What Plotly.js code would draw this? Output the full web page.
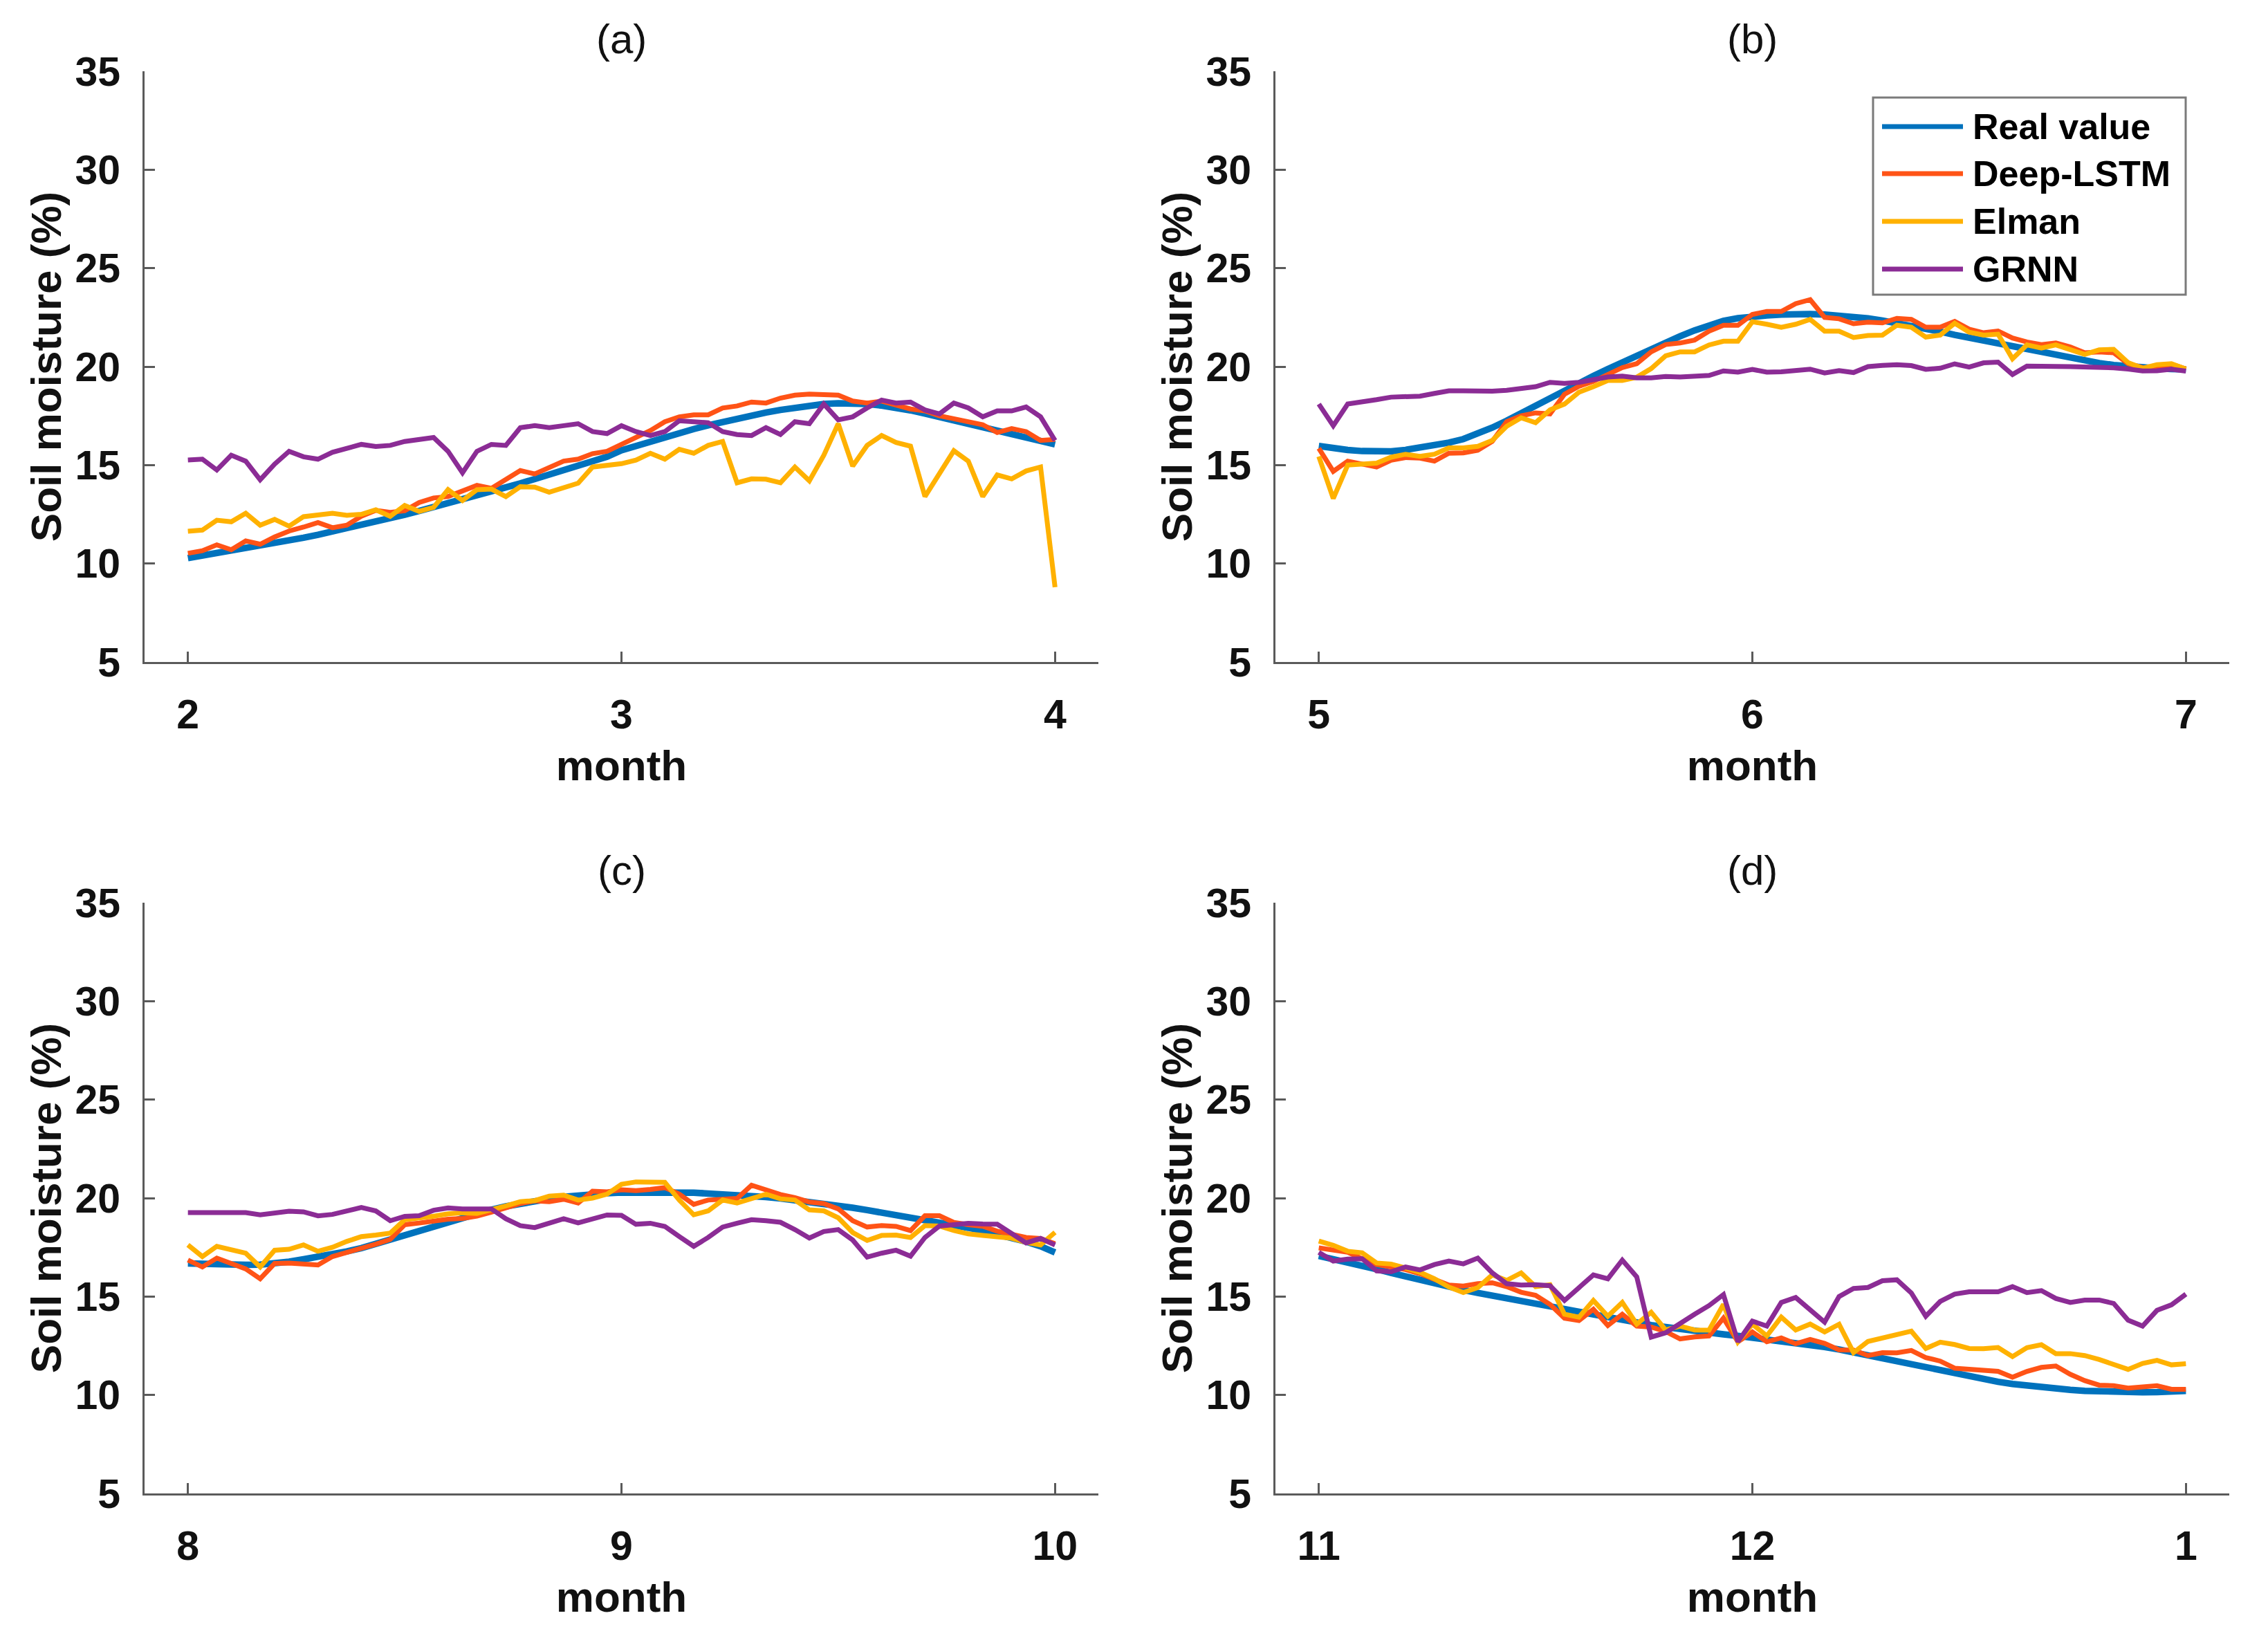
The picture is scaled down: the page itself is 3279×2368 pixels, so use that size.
<!DOCTYPE html>
<html><head><meta charset="utf-8">
<script src="https://cdn.plot.ly/plotly-3.0.1.min.js"></script>
<style>html,body{margin:0;padding:0;background:#fff}</style>
</head><body><div id="chart" style="width:3279px;height:2368px"></div>
<script>
const seriesNames = ['Real value','Deep-LSTM','Elman','GRNN'];
const seriesColors = ['#0072BD','#FF5316','#FFB100','#8B2C95'];
const seriesWidths = [9.5,7,7,7];
const panelTitles = ['(a)','(b)','(c)','(d)'];
const monthTickText = [['2','3','4'],['5','6','7'],['8','9','10'],['11','12','1']];
const monthTickDays = [0,30,60];
const yTicks = [5,10,15,20,25,30,35];

const a_real = [10.28,10.40,10.52,10.65,10.78,10.90,11.03,11.17,11.31,11.46,11.62,11.78,11.95,12.12,12.30,12.48,12.67,12.86,13.05,13.25,13.45,13.65,13.86,14.07,14.29,14.51,14.73,14.96,15.19,15.42,15.75,15.98,16.20,16.42,16.63,16.83,17.02,17.20,17.37,17.53,17.67,17.80,17.92,18.02,18.10,18.14,18.14,18.10,18.02,17.92,17.78,17.62,17.45,17.28,17.10,16.92,16.74,16.57,16.40,16.23,16.05];
const a_lstm = [10.52,10.65,10.95,10.7,11.15,10.98,11.35,11.65,11.85,12.08,11.82,11.95,12.4,12.7,12.6,12.68,13.1,13.33,13.4,13.7,13.97,13.82,14.3,14.72,14.55,14.9,15.2,15.3,15.58,15.7,16.05,16.45,16.75,17.2,17.45,17.55,17.55,17.9,18.0,18.2,18.15,18.4,18.55,18.6,18.55,18.55,18.25,18.15,18.25,18.05,17.85,17.75,17.5,17.35,17.2,17.05,16.65,16.85,16.7,16.25,16.3];
const a_elman = [11.64,11.7,12.2,12.12,12.55,11.95,12.24,11.9,12.38,12.45,12.55,12.45,12.5,12.73,12.4,12.95,12.65,12.85,13.75,13.2,13.75,13.78,13.4,13.9,13.88,13.62,13.85,14.08,14.9,14.96,15.07,15.25,15.6,15.3,15.8,15.6,16.0,16.2,14.1,14.3,14.28,14.1,14.9,14.2,15.5,17.1,14.95,16.0,16.5,16.15,15.96,13.4,14.6,15.73,15.2,13.4,14.5,14.3,14.7,14.9,8.8];
const a_grnn = [15.26,15.3,14.75,15.5,15.2,14.25,15.05,15.7,15.42,15.3,15.65,15.85,16.05,15.94,16.0,16.2,16.3,16.4,15.7,14.61,15.7,16.05,16.0,16.9,17.0,16.9,17.0,17.1,16.7,16.6,17.0,16.7,16.5,16.7,17.25,17.2,17.15,16.7,16.55,16.5,16.9,16.55,17.2,17.1,18.1,17.3,17.45,17.9,18.3,18.15,18.2,17.8,17.6,18.15,17.9,17.45,17.75,17.75,17.95,17.45,16.25];

const b_real = [15.97,15.85,15.77,15.71,15.67,15.70,15.77,15.87,16.00,16.14,16.32,16.58,16.90,17.25,17.64,18.00,18.42,18.83,19.20,19.53,19.88,20.23,20.58,20.90,21.20,21.54,21.84,22.10,22.32,22.46,22.55,22.60,22.64,22.67,22.67,22.64,22.60,22.53,22.45,22.34,22.22,22.08,21.93,21.78,21.61,21.46,21.30,21.15,21.00,20.85,20.70,20.56,20.42,20.29,20.18,20.08,20.00,19.94,19.91,19.88,19.86];
const b_lstm = [15.85,14.68,15.2,15.05,14.9,15.25,15.38,15.35,15.2,15.6,15.62,15.75,16.2,17.2,17.5,17.65,17.6,18.6,19.0,19.25,19.6,19.95,20.15,20.75,21.12,21.2,21.35,21.8,22.1,22.1,22.65,22.8,22.8,23.2,23.4,22.5,22.43,22.18,22.26,22.22,22.45,22.4,22.0,22.0,22.3,21.9,21.72,21.81,21.45,21.25,21.12,21.2,21.0,20.7,20.75,20.7,20.15,19.95,19.94,20.12,19.88];
const b_elman = [15.44,13.3,15.0,15.05,15.1,15.4,15.55,15.44,15.55,15.87,15.87,15.95,16.25,16.97,17.4,17.15,17.8,18.1,18.7,18.98,19.3,19.3,19.46,19.9,20.55,20.75,20.75,21.1,21.29,21.29,22.28,22.15,22.0,22.15,22.4,21.8,21.8,21.48,21.58,21.6,22.1,22.0,21.5,21.6,22.2,21.75,21.6,21.65,20.4,21.1,20.94,21.1,20.85,20.62,20.85,20.88,20.2,19.92,20.1,20.15,19.88];
const b_grnn = [18.1,17.0,18.1,18.19,18.32,18.45,18.45,18.5,18.64,18.77,18.77,18.75,18.75,18.8,18.9,18.98,19.2,19.15,19.2,19.34,19.47,19.52,19.43,19.43,19.5,19.47,19.5,19.55,19.78,19.72,19.86,19.72,19.74,19.82,19.87,19.68,19.8,19.7,20.0,20.06,20.1,20.05,19.86,19.92,20.14,19.98,20.19,20.23,19.6,20.03,20.05,20.01,20.0,20.0,19.95,19.94,19.88,19.78,19.79,19.87,19.77];

const c_real = [16.68,16.65,16.63,16.62,16.61,16.62,16.68,16.77,16.89,17.00,17.15,17.29,17.46,17.68,17.89,18.11,18.35,18.58,18.81,19.03,19.24,19.41,19.58,19.73,19.85,19.96,20.06,20.14,20.20,20.25,20.28,20.29,20.30,20.30,20.29,20.27,20.23,20.20,20.15,20.11,20.05,19.98,19.90,19.81,19.72,19.61,19.51,19.39,19.27,19.15,19.03,18.90,18.77,18.63,18.49,18.33,18.17,17.99,17.79,17.55,17.24];
const c_lstm = [16.85,16.5,16.95,16.66,16.4,15.9,16.68,16.7,16.65,16.6,17.03,17.22,17.45,17.66,17.9,18.65,18.73,18.85,18.93,18.96,19.08,19.28,19.5,19.72,19.86,19.82,19.94,19.75,20.35,20.32,20.42,20.38,20.44,20.53,20.2,19.68,19.9,19.92,19.98,20.65,20.42,20.18,20.02,19.8,19.72,19.45,18.85,18.53,18.6,18.56,18.35,19.1,19.1,18.76,18.65,18.57,18.32,18.19,18.0,17.95,17.68];
const c_elman = [17.62,17.03,17.55,17.4,17.2,16.5,17.35,17.4,17.62,17.3,17.5,17.8,18.04,18.12,18.22,18.9,18.96,19.08,19.2,19.25,19.22,19.38,19.6,19.82,19.87,20.1,20.15,19.9,20.0,20.2,20.7,20.82,20.79,20.8,19.9,19.15,19.35,19.9,19.75,20.0,20.2,19.96,19.9,19.4,19.35,19.0,18.25,17.85,18.1,18.12,18.0,18.6,18.58,18.35,18.18,18.1,18.03,17.96,17.75,17.62,18.26];
const c_grnn = [19.26,19.25,19.3,19.27,19.26,19.15,19.25,19.33,19.3,19.1,19.17,19.35,19.52,19.35,18.85,19.07,19.1,19.38,19.5,19.45,19.44,19.45,18.95,18.6,18.5,18.7,18.95,18.74,18.95,19.14,19.12,18.67,18.72,18.56,18.05,17.55,18.0,18.53,18.72,18.9,18.85,18.77,18.4,17.97,18.3,18.4,17.87,17.0,17.2,17.35,17.05,18.0,18.58,18.65,18.72,18.68,18.67,18.2,17.72,17.95,17.62];

const d_real = [17.06,16.91,16.74,16.56,16.39,16.20,16.01,15.82,15.65,15.48,15.33,15.18,15.04,14.89,14.76,14.62,14.49,14.35,14.21,14.07,13.93,13.80,13.67,13.55,13.45,13.34,13.25,13.16,13.08,13.00,12.92,12.84,12.75,12.66,12.55,12.44,12.31,12.16,12.02,11.87,11.71,11.54,11.38,11.21,11.06,10.92,10.79,10.67,10.56,10.47,10.39,10.32,10.26,10.21,10.18,10.15,10.14,10.14,10.15,10.18,10.21];
const d_lstm = [17.47,17.35,17.25,16.92,16.62,16.5,16.37,16.16,15.9,15.58,15.53,15.65,15.7,15.5,15.22,15.06,14.6,13.9,13.78,14.35,13.53,14.1,13.5,13.45,13.22,12.85,12.95,13.0,13.9,12.7,13.2,12.7,12.9,12.6,12.82,12.62,12.29,12.28,12.0,12.15,12.14,12.26,11.9,11.72,11.36,11.3,11.28,11.2,10.9,11.2,11.4,11.47,11.05,10.73,10.5,10.47,10.35,10.4,10.47,10.29,10.29];
const d_elman = [17.82,17.6,17.3,17.22,16.7,16.65,16.45,16.23,15.9,15.48,15.2,15.45,16.1,15.82,16.2,15.5,15.6,14.1,13.95,14.8,14.0,14.7,13.6,14.2,13.3,13.5,13.3,13.29,14.6,12.7,13.6,13.0,13.95,13.3,13.6,13.2,13.59,12.15,12.72,12.9,13.06,13.24,12.36,12.68,12.56,12.36,12.35,12.41,11.95,12.4,12.55,12.1,12.1,12.0,11.8,11.55,11.3,11.6,11.76,11.53,11.59];
const d_grnn = [17.24,16.8,16.9,16.92,16.3,16.26,16.5,16.35,16.62,16.8,16.66,16.95,16.2,15.65,15.58,15.6,15.55,14.8,15.45,16.1,15.9,16.85,16.0,12.94,13.16,13.65,14.1,14.54,15.1,12.7,13.75,13.5,14.7,14.95,14.35,13.7,15.0,15.41,15.46,15.8,15.85,15.18,14.0,14.75,15.12,15.24,15.24,15.24,15.5,15.2,15.3,14.9,14.7,14.82,14.82,14.65,13.8,13.5,14.3,14.58,15.12];

const panels = [
  [a_real,a_lstm,a_elman,a_grnn],
  [b_real,b_lstm,b_elman,b_grnn],
  [c_real,c_lstm,c_elman,c_grnn],
  [d_real,d_lstm,d_elman,d_grnn]
];

const W = 3279, H = 2368;
const FONT = 'Liberation Sans, Arial, Helvetica, sans-serif';
const xDomains = [[209/W,1588/W],[1844/W,3223/W]];
const yDomains = [[1-957/H,1-103/H],[1-2159/H,1-1305/H]];

const traces = [];
panels.forEach((ser,p)=>{
  const ax = p===0?'':String(p+1);
  ser.forEach((vals,s)=>{
    traces.push({
      type:'scatter', mode:'lines',
      x: vals.map((_,i)=>i), y: vals,
      xaxis:'x'+ax, yaxis:'y'+ax,
      name: seriesNames[s], showlegend:false,
      line:{color:seriesColors[s], width:seriesWidths[s]}
    });
  });
});

const axisCommon = {
  showline:true, linecolor:'#5a5a5a', linewidth:3,
  ticks:'inside', ticklen:15, tickwidth:3, tickcolor:'#5a5a5a',
  showgrid:false, zeroline:false, mirror:false,
  tickfont:{family:FONT, size:59, color:'#111', weight:'bold'}
};

const layout = {
  width:W, height:H, margin:{l:0,r:0,t:0,b:0},
  paper_bgcolor:'#fff', plot_bgcolor:'#fff',
  font:{family:FONT, color:'#111'},
  annotations:[], shapes:[]
};

for(let p=0;p<4;p++){
  const ax = p===0?'':String(p+1);
  const col = p%2, row = Math.floor(p/2);
  layout['xaxis'+ax] = Object.assign({}, axisCommon, {
    domain:xDomains[col], anchor:'y'+ax, range:[-3,63],
    tickvals:monthTickDays, ticktext:monthTickText[p],
    ticklabelstandoff:22,
    title:{text:'month', font:{family:FONT, size:62, color:'#111', weight:'bold'}, standoff:20}
  });
  layout['yaxis'+ax] = Object.assign({}, axisCommon, {
    domain:yDomains[row], anchor:'x'+ax, range:[5,35],
    tickvals:yTicks, ticklabelstandoff:20,
    title:{text:'Soil moisture (%)', font:{family:FONT, size:62, color:'#111', weight:'bold'}, standoff:0}
  });
  layout.annotations.push({
    text:panelTitles[p], xref:'paper', yref:'paper',
    x:(xDomains[col][0]+xDomains[col][1])/2, y:1-(56+row*1202)/H,
    xanchor:'center', yanchor:'middle', showarrow:false,
    font:{family:FONT, size:60, color:'#111'}
  });
}

// legend box (panel b)
const legX0 = 2708/W, legX1 = 3160/W, legY0 = 1-426/H, legY1 = 1-141/H;
layout.shapes.push({type:'rect', xref:'paper', yref:'paper', x0:legX0, x1:legX1, y0:legY0, y1:legY1,
  line:{color:'#7a7a7a', width:3}, fillcolor:'#fff', layer:'above'});
const legRows = [183,251,320,389];
seriesNames.forEach((nm,s)=>{
  const yy = 1-legRows[s]/H;
  layout.shapes.push({type:'line', xref:'paper', yref:'paper', x0:2721/W, x1:2838/W, y0:yy, y1:yy,
    line:{color:seriesColors[s], width:7}, layer:'above'});
  layout.annotations.push({text:nm, xref:'paper', yref:'paper', x:2850/W, y:yy,
    xanchor:'left', yanchor:'middle', showarrow:false,
    font:{family:FONT, size:52, color:'#000', weight:'bold'}});
});

Plotly.newPlot('chart', traces, layout, {displayModeBar:false, staticPlot:true});
</script></body></html>
